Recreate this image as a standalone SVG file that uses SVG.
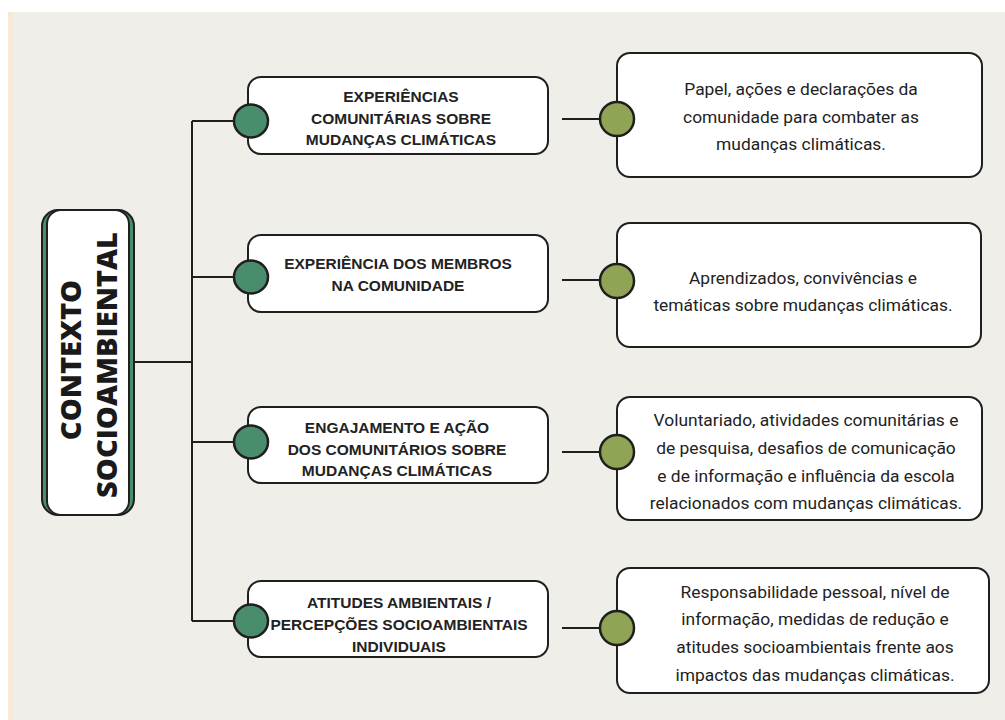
<svg xmlns="http://www.w3.org/2000/svg" width="1005" height="720" viewBox="0 0 1005 720">
<style>
.bg{fill:#efeee9}
.box{fill:#ffffff;stroke:#1f1f1f;stroke-width:2}
.gdot{fill:#4a8d6d;stroke:#1f1f1f;stroke-width:2.5}
.odot{fill:#90a456;stroke:#1f1f1f;stroke-width:2.5}
.con{fill:none;stroke:#1f1f1f;stroke-width:2}
.cat{font-family:"Liberation Sans",Arial,sans-serif;font-weight:700;font-size:15.5px;fill:#222222;text-anchor:middle}
.desc{font-family:Roboto,"Liberation Sans",sans-serif;font-size:17.4px;fill:#222222;text-anchor:middle}
.root{font-family:"Open Sans","Liberation Sans",sans-serif;font-weight:800;font-size:29px;fill:#1a1a1a;text-anchor:middle}
</style>
<rect x="0" y="0" width="1005" height="720" fill="#ffffff"/>
<rect x="8" y="12" width="997" height="708" class="bg"/>
<rect x="8" y="12" width="5" height="708" fill="#f6e9d8"/>

<g id="connectors">
<path class="con" d="M134 362 H192 M192 121 V621 M192 121 H235 M192 277 H235 M192 442 H235 M192 621 H235"/>
<path class="con" d="M562 119 H601 M562 280 H601 M562 452 H601 M562 628 H601"/>
</g>

<g id="root">
<rect x="42" y="210" width="92" height="305" rx="16" fill="#4a8d6d" stroke="#1f1f1f" stroke-width="2"/>
<rect x="47" y="210" width="82" height="305" rx="14" class="box"/>
<text class="root" transform="translate(81,360) rotate(-90)">CONTEXTO</text>
<text class="root" transform="translate(117,365) rotate(-90)">SOCIOAMBIENTAL</text>
</g>

<g id="cat1">
<rect x="248" y="77" width="300" height="77" rx="13" class="box"/>
<ellipse cx="251" cy="121" rx="17" ry="16.5" class="gdot"/>
<text class="cat"><tspan x="401" y="102">EXPERIÊNCIAS</tspan><tspan x="401" y="123.5">COMUNITÁRIAS SOBRE</tspan><tspan x="401" y="145">MUDANÇAS CLIMÁTICAS</tspan></text>
</g>
<g id="cat2">
<rect x="248" y="235" width="300" height="77" rx="13" class="box"/>
<ellipse cx="251" cy="277" rx="17" ry="16.5" class="gdot"/>
<text class="cat"><tspan x="398" y="269">EXPERIÊNCIA DOS MEMBROS</tspan><tspan x="398" y="290.5">NA COMUNIDADE</tspan></text>
</g>
<g id="cat3">
<rect x="248" y="407" width="300" height="76" rx="13" class="box"/>
<ellipse cx="251" cy="442" rx="17" ry="16.5" class="gdot"/>
<text class="cat"><tspan x="397" y="433">ENGAJAMENTO E AÇÃO</tspan><tspan x="397" y="454.5">DOS COMUNITÁRIOS SOBRE</tspan><tspan x="397" y="476">MUDANÇAS CLIMÁTICAS</tspan></text>
</g>
<g id="cat4">
<rect x="248" y="581" width="300" height="76" rx="13" class="box"/>
<ellipse cx="251" cy="621" rx="17" ry="16.5" class="gdot"/>
<text class="cat"><tspan x="399" y="608">ATITUDES AMBIENTAIS /</tspan><tspan x="399" y="630">PERCEPÇÕES SOCIOAMBIENTAIS</tspan><tspan x="399" y="652">INDIVIDUAIS</tspan></text>
</g>

<g id="desc1">
<rect x="617" y="53" width="365" height="124" rx="13" class="box"/>
<ellipse cx="617" cy="119" rx="17" ry="17" class="odot"/>
<text class="desc"><tspan x="801" y="95">Papel, ações e declarações da</tspan><tspan x="801" y="122.5">comunidade para combater as</tspan><tspan x="801" y="150">mudanças climáticas.</tspan></text>
</g>
<g id="desc2">
<rect x="617" y="223" width="364" height="124" rx="13" class="box"/>
<ellipse cx="617" cy="281" rx="17" ry="17" class="odot"/>
<text class="desc"><tspan x="803" y="283.5">Aprendizados, convivências e</tspan><tspan x="803" y="310.5">temáticas sobre mudanças climáticas.</tspan></text>
</g>
<g id="desc3">
<rect x="617" y="397" width="365" height="123" rx="13" class="box"/>
<ellipse cx="617" cy="452" rx="17" ry="17" class="odot"/>
<text class="desc"><tspan x="806" y="425.5">Voluntariado, atividades comunitárias e</tspan><tspan x="806" y="453.5">de pesquisa, desafios de  comunicação</tspan><tspan x="806" y="481.5">e de informação e influência da escola</tspan><tspan x="806" y="509">relacionados com mudanças climáticas.</tspan></text>
</g>
<g id="desc4">
<rect x="617" y="568" width="372" height="125" rx="13" class="box"/>
<ellipse cx="617" cy="628" rx="17" ry="17" class="odot"/>
<text class="desc"><tspan x="815" y="597.5">Responsabilidade pessoal, nível de</tspan><tspan x="815" y="625">informação, medidas de redução e</tspan><tspan x="815" y="652.5">atitudes socioambientais frente aos</tspan><tspan x="815" y="680.5">impactos das mudanças climáticas.</tspan></text>
</g>
</svg>
